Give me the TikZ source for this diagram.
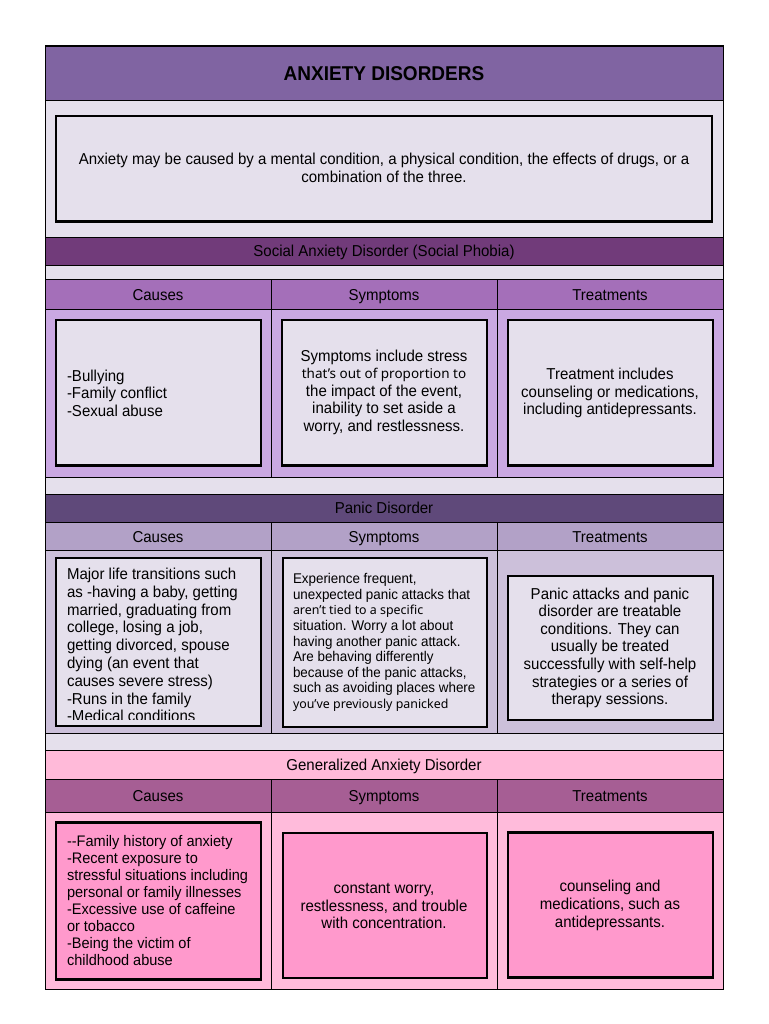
\documentclass[tikz,border=0pt]{standalone}
\usepackage{fontspec}
\setmainfont{Liberation Sans}[FakeStretch=0.95]
\newfontfamily\fbfont{Noto Sans}
\newcommand\fz[2]{\fontsize{#1}{#2}\selectfont}
\definecolor{titlebar}{HTML}{8064A2}
\definecolor{lightbg}{HTML}{E5E0EC}
\definecolor{socbar}{HTML}{713B7A}
\definecolor{sochead}{HTML}{A46FB9}
\definecolor{soccont}{HTML}{CAA8E2}
\definecolor{panbar}{HTML}{5F497A}
\definecolor{panhead}{HTML}{B2A1C7}
\definecolor{pancont}{HTML}{CCC0DA}
\definecolor{gadbar}{HTML}{FFBAD9}
\definecolor{gadhead}{HTML}{A65E94}
\definecolor{gadcont}{HTML}{FFBBDB}
\definecolor{gadbox}{HTML}{FF99CC}
\begin{document}
\begin{tikzpicture}[x=1pt,y=-1pt,
  cell/.style={draw=black, line width=0.9pt, anchor=north west, inner sep=0pt, outer sep=0pt, font=\fz{15.8}{17.6}, text height=11.3pt, text depth=0pt},
  box/.style={draw=black, line width=2.2pt, anchor=north west, inner sep=0pt, outer sep=0pt},
  txt/.style={inner sep=0pt, outer sep=0pt, font=\fz{15.8}{17.6}},
]
\useasboundingbox (0,0) rectangle (768,1024);
\fill[white] (0,0) rectangle (768,1024);

% title and intro
\node[cell, fill=titlebar, minimum width=678pt, minimum height=54.5pt, font=\bfseries\fz{20}{22}, text height=14.3pt] (title) at (45,46) {ANXIETY DISORDERS};
\node[cell, fill=lightbg, minimum width=678pt, minimum height=136.5pt] (introbg) at (45,100.5) {};
\node[box, fill=lightbg, minimum width=656pt, minimum height=105.5pt] (intro) at (56,116) {};
\node[txt, align=center] (introtxt) at (384,168) {Anxiety may be caused by a mental condition, a physical condition, the effects of drugs, or a\\combination of the three.};

% social anxiety
\node[cell, fill=socbar, minimum width=678pt, minimum height=28pt] (socbar) at (45,237) {Social Anxiety Disorder (Social Phobia)};
\node[cell, fill=lightbg, minimum width=678pt, minimum height=14.5pt] (socgap) at (45,265) {};
\node[cell, fill=sochead, minimum width=226pt, minimum height=30pt] (soch1) at (45,279.5) {Causes};
\node[cell, fill=sochead, minimum width=226pt, minimum height=30pt] (soch2) at (271,279.5) {Symptoms};
\node[cell, fill=sochead, minimum width=226pt, minimum height=30pt] (soch3) at (497,279.5) {Treatments};
\node[cell, fill=soccont, minimum width=226pt, minimum height=167.5pt] (socc1) at (45,309.5) {};
\node[cell, fill=soccont, minimum width=226pt, minimum height=167.5pt] (socc2) at (271,309.5) {};
\node[cell, fill=soccont, minimum width=226pt, minimum height=167.5pt] (socc3) at (497,309.5) {};
\node[box, fill=lightbg, minimum width=205pt, minimum height=145.5pt] (socb1) at (56,320) {};
\node[box, fill=lightbg, minimum width=205pt, minimum height=145.5pt] (socb2) at (282,320) {};
\node[box, fill=lightbg, minimum width=205pt, minimum height=145.5pt] (socb3) at (508,320) {};
\node[txt, align=left, anchor=west] (soct1) at (67,393) {-Bullying\\-Family conflict\\-Sexual abuse};
\node[txt, align=center] (soct2) at (384,392.3) {Symptoms include stress\\{\fbfont\fz{13.5}{17.6}that’s out of proportion to}\\the impact of the event,\\inability to set aside a\\worry, and restlessness.};
\node[txt, align=center] (soct3) at (610,393) {Treatment includes\\counseling or medications,\\including antidepressants.};
\node[cell, fill=lightbg, minimum width=678pt, minimum height=17.3pt] (socgap2) at (45,477) {};

% panic disorder
\node[cell, fill=panbar, minimum width=678pt, minimum height=28pt] (panbar) at (45,494.3) {Panic Disorder};
\node[cell, fill=panhead, minimum width=226pt, minimum height=28.2pt] (panh1) at (45,522.3) {Causes};
\node[cell, fill=panhead, minimum width=226pt, minimum height=28.2pt] (panh2) at (271,522.3) {Symptoms};
\node[cell, fill=panhead, minimum width=226pt, minimum height=28.2pt] (panh3) at (497,522.3) {Treatments};
\node[cell, fill=pancont, minimum width=226pt, minimum height=182.5pt] (panc1) at (45,550.5) {};
\node[cell, fill=pancont, minimum width=226pt, minimum height=182.5pt] (panc2) at (271,550.5) {};
\node[cell, fill=pancont, minimum width=226pt, minimum height=182.5pt] (panc3) at (497,550.5) {};
\fill[lightbg] (56,558) rectangle (261,726);
\begin{scope}
\clip (56,558) rectangle (261,719);
\node[txt, align=left, anchor=west, font=\fz{15.8}{17.8}] (pant1) at (67,645) {Major life transitions such\\as -having a baby, getting\\married, graduating from\\college, losing a job,\\getting divorced, spouse\\dying (an event that\\causes severe stress)\\-Runs in the family\\-Medical conditions};
\end{scope}
\node[box, minimum width=205pt, minimum height=168pt] (panb1) at (56,558) {};
\node[box, fill=lightbg, minimum width=204pt, minimum height=169pt] (panb2) at (283,558) {};
\node[box, fill=lightbg, minimum width=205pt, minimum height=144pt] (panb3) at (508,576) {};
\node[txt, align=left, anchor=west, font=\fz{14.1}{15.6}] (pant2) at (293,642.5) {Experience frequent,\\unexpected panic attacks that\\{\fbfont\fz{12.4}{15.6}aren’t tied to a specific}\\situation. Worry a lot about\\having another panic attack.\\Are behaving differently\\because of the panic attacks,\\such as avoiding places where\\{\fbfont\fz{12.4}{15.6}you’ve previously panicked}};
\node[txt, align=center, font=\fz{15.8}{17.6}] (pant3) at (610,647.8) {Panic attacks and panic\\disorder are treatable\\conditions. They can\\usually be treated\\successfully with self-help\\strategies or a series of\\therapy sessions.};
\node[cell, fill=lightbg, minimum width=678pt, minimum height=17.5pt] (pangap) at (45,733) {};

% generalized anxiety disorder
\node[cell, fill=gadbar, minimum width=678pt, minimum height=28.5pt] (gadbar) at (45,750.5) {Generalized Anxiety Disorder};
\node[cell, fill=gadhead, minimum width=226pt, minimum height=33pt] (gadh1) at (45,779) {Causes};
\node[cell, fill=gadhead, minimum width=226pt, minimum height=33pt] (gadh2) at (271,779) {Symptoms};
\node[cell, fill=gadhead, minimum width=226pt, minimum height=33pt] (gadh3) at (497,779) {Treatments};
\node[cell, fill=gadcont, minimum width=226pt, minimum height=177pt] (gadc1) at (45,812) {};
\node[cell, fill=gadcont, minimum width=226pt, minimum height=177pt] (gadc2) at (271,812) {};
\node[cell, fill=gadcont, minimum width=226pt, minimum height=177pt] (gadc3) at (497,812) {};
\node[box, fill=gadbox, minimum width=205pt, minimum height=157pt] (gadb1) at (56,822.5) {};
\node[box, fill=gadbox, minimum width=204pt, minimum height=145pt] (gadb2) at (283,833) {};
\node[box, fill=gadbox, minimum width=205pt, minimum height=145pt] (gadb3) at (508,832.5) {};
\node[txt, align=left, anchor=west, font=\fz{15.3}{17.1}] (gadt1) at (67,900.5) {-{}-Family history of anxiety\\-Recent exposure to\\stressful situations including\\personal or family illnesses\\-Excessive use of caffeine\\or tobacco\\-Being the victim of\\childhood abuse};
\node[txt, align=center] (gadt2) at (384,906.3) {constant worry,\\restlessness, and trouble\\with concentration.};
\node[txt, align=center] (gadt3) at (610,905.5) {counseling and\\medications, such as\\antidepressants.};

% outer frame
\draw[line width=1pt] (title.north west) rectangle (gadc3.south east);
\end{tikzpicture}
\end{document}
